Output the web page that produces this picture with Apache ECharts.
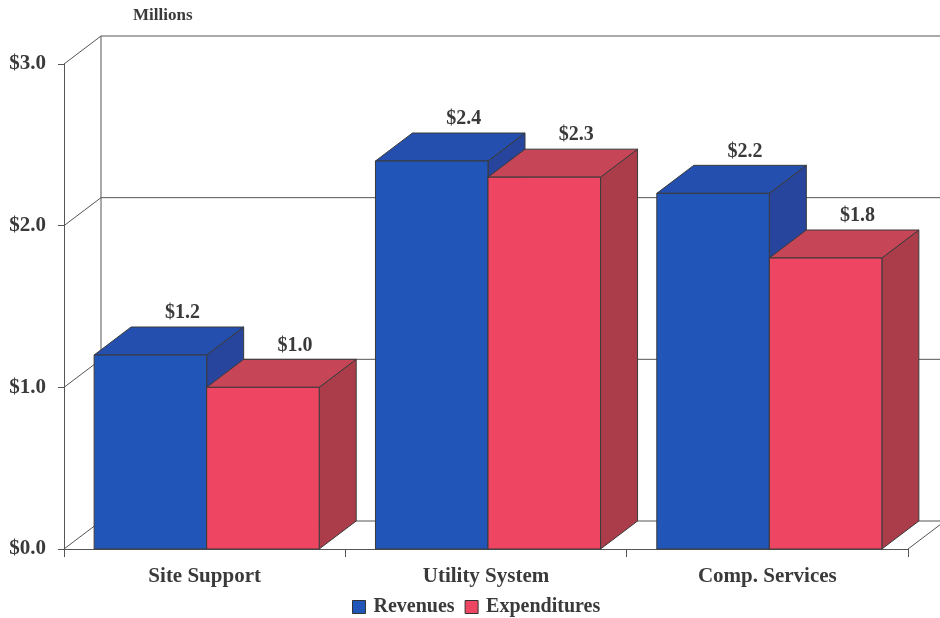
<!DOCTYPE html>
<html>
<head>
<meta charset="utf-8">
<script src="https://cdn.jsdelivr.net/npm/echarts@6/dist/echarts.min.js"></script>
<style>
  html, body { margin: 0; padding: 0; background: #ffffff; }
  #chart { width: 940px; height: 618px; }
</style>
</head>
<body>
<div id="chart"></div>
<script>
// Program data (millions of dollars)
const categories = ['Site Support', 'Utility System', 'Comp. Services'];
const revenues = [1.2, 2.4, 2.2];
const expenditures = [1.0, 2.3, 1.8];
const seriesNames = ['Revenues', 'Expenditures'];
const yTicks = [0, 1, 2, 3];

// Depth of the pseudo-3D box (pixels)
const DX = 37, DY = -28;
const FONT = '"Liberation Serif", "Times New Roman", serif';
const TEXT = '#3a3a3a';

const palettes = [
  { front: '#2155b8', top: '#244fae', side: '#27459c' },
  { front: '#ee4562', top: '#c64556', side: '#ab3d4a' }
];

function boxRenderer(idx) {
  return function (params, api) {
    const cat = api.value(0), val = api.value(1);
    const base = api.coord([cat, 0]);
    const top = api.coord([cat, val]);
    const w = api.size([1, 0])[0] * 0.4;
    const x0 = base[0] - w + idx * w + 2;
    const yb = base[1], yt = top[1];
    const c = palettes[idx];
    const line = { stroke: '#3a3a3a', lineWidth: 1 };
    return {
      type: 'group',
      children: [
        { type: 'polygon', shape: { points: [[x0 + w, yt], [x0 + w + DX, yt + DY], [x0 + w + DX, yb + DY], [x0 + w, yb]] },
          style: Object.assign({ fill: c.side }, line) },
        { type: 'polygon', shape: { points: [[x0, yt], [x0 + DX, yt + DY], [x0 + w + DX, yt + DY], [x0 + w, yt]] },
          style: Object.assign({ fill: c.top }, line) },
        { type: 'rect', shape: { x: x0, y: yt, width: w, height: yb - yt },
          style: Object.assign({ fill: c.front }, line) },
        { type: 'text', x: x0 + w / 2 + 32, y: yt + DY - 4,
          style: { text: '$' + val.toFixed(1), fill: TEXT, font: 'bold 20px ' + FONT,
                   align: 'center', verticalAlign: 'bottom' } }
      ]
    };
  };
}

// Side wall, back wall grid lines and floor
function wallRenderer(params, api) {
  const cs = params.coordSys;
  const v = api.value(0);
  const y = api.coord([0, v])[1];
  const left = cs.x, right = cs.x + cs.width;
  const st = { stroke: '#555555', lineWidth: 1, fill: null };
  const kids = [
    { type: 'line', shape: { x1: left, y1: y, x2: left + DX, y2: y + DY }, style: st },
    { type: 'line', shape: { x1: left + DX, y1: y + DY, x2: right + DX + 40, y2: y + DY }, style: st }
  ];
  if (v === 0) {
    kids.push({ type: 'line', shape: { x1: right, y1: y, x2: right + DX, y2: y + DY }, style: st });
    const yTop = api.coord([0, yTicks[yTicks.length - 1]])[1];
    kids.push({ type: 'line', shape: { x1: left + DX, y1: y + DY, x2: left + DX, y2: yTop + DY }, style: st });
  }
  return { type: 'group', children: kids };
}

const chart = echarts.init(document.getElementById('chart'), null, { renderer: 'canvas' });
chart.setOption({
  animation: false,
  backgroundColor: '#ffffff',
  textStyle: { fontFamily: FONT },
  graphic: [{
    type: 'text', left: 133, top: 7,
    style: { text: 'Millions', font: 'bold 17px ' + FONT, fill: TEXT }
  }],
  grid: { left: 64, right: 32, top: 64, bottom: 69 },
  legend: {
    top: 592, left: 347,
    itemWidth: 13, itemHeight: 13, itemGap: 10,
    icon: 'rect',
    itemStyle: { borderColor: '#333', borderWidth: 1 },
    textStyle: { fontFamily: FONT, fontWeight: 'bold', fontSize: 20, color: TEXT, padding: [0, 0, 0, 3] },
    data: seriesNames
  },
  xAxis: {
    type: 'category', data: categories,
    axisLine: { lineStyle: { color: '#555555', width: 1 } },
    axisTick: { show: true, length: 8, inside: false, lineStyle: { color: '#555555' } },
    axisLabel: { margin: 17, fontFamily: FONT, fontWeight: 'bold', fontSize: 21, color: TEXT },
    splitLine: { show: false }
  },
  yAxis: {
    type: 'value', min: 0, max: 3, interval: 1,
    axisLine: { show: true, lineStyle: { color: '#555555', width: 1 } },
    axisTick: { show: true, length: 6, lineStyle: { color: '#555555' } },
    axisLabel: { margin: 18, fontFamily: FONT, fontWeight: 'bold', fontSize: 21, color: TEXT,
                 formatter: v => '$' + v.toFixed(1) },
    splitLine: { show: false }
  },
  series: [
    { type: 'custom', name: '_wall', silent: true, clip: false, z: 1,
      renderItem: wallRenderer, data: yTicks.map(v => [v]), encode: { y: 0 } },
    { type: 'custom', name: seriesNames[0], clip: false, z: 2,
      itemStyle: { color: palettes[0].front },
      renderItem: boxRenderer(0),
      data: revenues.map((v, i) => [i, v]), encode: { x: 0, y: 1 } },
    { type: 'custom', name: seriesNames[1], clip: false, z: 3,
      itemStyle: { color: palettes[1].front },
      renderItem: boxRenderer(1),
      data: expenditures.map((v, i) => [i, v]), encode: { x: 0, y: 1 } }
  ]
});
</script>
</body>
</html>
